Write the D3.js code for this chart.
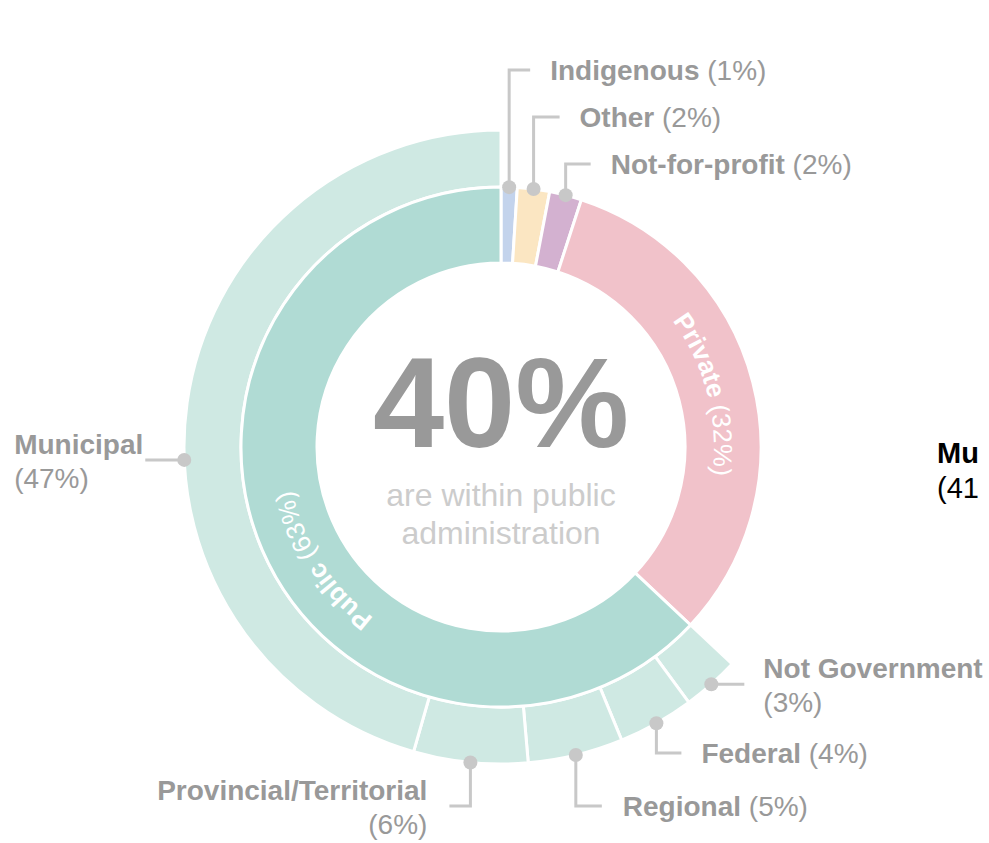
<!DOCTYPE html>
<html>
<head>
<meta charset="utf-8">
<script src="https://cdn.jsdelivr.net/npm/d3@7"></script>
<style>
  body { margin: 0; background: #fff; }
  svg { display: block; font-family: "Liberation Sans", Arial, sans-serif; }
</style>
</head>
<body>
<div id="chart"></div>
<script>
var width = 989;
var height = 843;

// inner ring: sector shares, clockwise from 12 o'clock
var sectors = ["Indigenous", "Other", "Not-for-profit", "Private", "Public"];
var sectorShares = [1, 2, 2, 32, 63];
var sectorColors = ["#c3d3ec", "#fbe6c2", "#d3b1d0", "#f1c2ca", "#b0dbd4"];

// outer ring: level of government, only under Public
var levels = ["Not Government", "Federal", "Regional", "Provincial/Territorial", "Municipal"];
var levelShares = [3, 4, 5, 6, 47];
var levelColor = "#cfe9e3";

var headline = "40%";
var subtitle = ["are within public", "administration"];
var sideLabel = ["Mu", "(41"];

var cx = 501, cy = 447;
var rIn = 184, rMid = 260, rOut = 317;
var grey = "#999999", lineGrey = "#c8c8c8";

var svg = d3.select("#chart").append("svg")
    .attr("width", width)
    .attr("height", height);

var g = svg.append("g").attr("transform", "translate(" + cx + "," + cy + ")");

var innerPie = d3.pie().sort(null).value(d => d)(sectorShares);
innerPie.forEach((d, i) => { d.name = sectors[i]; d.color = sectorColors[i]; });

var publicArc = innerPie[sectors.indexOf("Public")];
var outerPie = d3.pie().sort(null).value(d => d)
    .startAngle(publicArc.startAngle)
    .endAngle(publicArc.endAngle)(levelShares);
outerPie.forEach((d, i) => { d.name = levels[i]; });

var innerArc = d3.arc().innerRadius(rIn).outerRadius(rMid);
var outerArc = d3.arc().innerRadius(rMid).outerRadius(rOut);

g.selectAll(".outer")
    .data(outerPie)
    .enter().append("path")
    .attr("class", "outer")
    .attr("d", outerArc)
    .attr("fill", levelColor)
    .attr("stroke", "#fff")
    .attr("stroke-width", 3);

g.selectAll(".inner")
    .data(innerPie)
    .enter().append("path")
    .attr("class", "inner")
    .attr("d", innerArc)
    .attr("fill", d => d.color)
    .attr("stroke", "#fff")
    .attr("stroke-width", 3);

function pt(a, r) { return [r * Math.sin(a), -r * Math.cos(a)]; }

// curved labels inside the big sectors
var arcLabels = [
    {name: "Private", offset: "50%"},
    {name: "Public", offset: "46%"}
];
arcLabels.forEach(function(l, i) {
    var d = innerPie[sectors.indexOf(l.name)];
    var r = 213;
    var p0 = pt(d.startAngle, r), p1 = pt(d.endAngle - 0.0001, r);
    var large = (d.endAngle - d.startAngle) > Math.PI ? 1 : 0;
    g.append("path")
        .attr("id", "lp" + i)
        .attr("d", "M" + p0 + "A" + r + "," + r + " 0 " + large + " 1 " + p1)
        .attr("fill", "none");
    var tp = g.append("text")
        .attr("fill", "#fff")
        .style("font-size", "26px")
        .append("textPath")
        .attr("href", "#lp" + i)
        .attr("startOffset", l.offset)
        .attr("text-anchor", "middle");
    tp.append("tspan").style("font-weight", "bold").text(l.name);
    tp.append("tspan").text(" (" + d.value + "%)");
});

// callouts: elbowY = level of the horizontal leg, dx = horizontal leg
var callouts = [
    {name: "Indigenous", ring: "inner", elbowY: 70, dx: 21, gap: 20},
    {name: "Other", ring: "inner", elbowY: 117, dx: 26, gap: 20},
    {name: "Not-for-profit", ring: "inner", elbowY: 164, dx: 25, gap: 20},
    {name: "Not Government", ring: "outer", elbowY: null, dx: 33, gap: 19, twoLine: true},
    {name: "Federal", ring: "outer", elbowY: 753, dx: 25, gap: 20},
    {name: "Regional", ring: "outer", elbowY: 806, dx: 26, gap: 21},
    {name: "Provincial/Territorial", ring: "outer", elbowY: 806, dx: -21, gap: 22, twoLine: true},
    {name: "Municipal", ring: "outer", elbowY: null, dx: -39, gap: 2, twoLine: true, at: 0.437, blockLeft: true}
];

var ann = svg.append("g");
callouts.forEach(function(c) {
    var list = c.ring === "inner" ? innerPie : outerPie;
    var d = list.find(e => e.name === c.name);
    var r = c.ring === "inner" ? rMid : rOut;
    var a = d.startAngle + (d.endAngle - d.startAngle) * (c.at || 0.5);
    var p = pt(a, r);
    var x0 = cx + p[0], y0 = cy + p[1];
    var ey = c.elbowY == null ? y0 : c.elbowY;
    var ex = x0 + c.dx;

    ann.append("polyline")
        .attr("points", [[x0, y0], [x0, ey], [ex, ey]].join(" "))
        .attr("fill", "none")
        .attr("stroke", lineGrey)
        .attr("stroke-width", 3);
    ann.append("circle")
        .attr("cx", x0).attr("cy", y0).attr("r", 7)
        .attr("fill", lineGrey);

    var right = c.dx > 0;
    var tx = right ? ex + c.gap : ex - c.gap;
    var anchor = right ? "start" : "end";
    var pct = "(" + d.value + "%)";

    if (!c.twoLine) {
        var t = ann.append("text")
            .attr("x", tx).attr("y", ey + 10)
            .attr("text-anchor", anchor)
            .attr("fill", grey)
            .style("font-size", "28px");
        t.append("tspan").style("font-weight", "bold").text(c.name);
        t.append("tspan").text(" " + pct);
    } else {
        var t1 = ann.append("text")
            .attr("x", tx).attr("y", ey - 6)
            .attr("text-anchor", anchor)
            .attr("fill", grey)
            .style("font-size", "28px")
            .style("font-weight", "bold")
            .text(c.name);
        var t2 = ann.append("text")
            .attr("y", ey + 28)
            .attr("fill", grey)
            .style("font-size", "28px")
            .text(pct);
        if (c.blockLeft) {
            var w = t1.node().getComputedTextLength();
            t2.attr("x", tx - w).attr("text-anchor", "start");
        } else {
            t2.attr("x", tx).attr("text-anchor", anchor);
        }
    }
});

// centre text
svg.append("text")
    .attr("x", cx).attr("y", cy)
    .attr("text-anchor", "middle")
    .attr("fill", grey)
    .style("font-size", "128px")
    .style("font-weight", "bold")
    .text(headline);

svg.selectAll(".sub")
    .data(subtitle)
    .enter().append("text")
    .attr("class", "sub")
    .attr("x", cx)
    .attr("y", (d, i) => 506 + i * 38)
    .attr("text-anchor", "middle")
    .attr("fill", "#cccccc")
    .style("font-size", "32px")
    .text(d => d);

// partial label of a neighbouring chart at the right edge
svg.append("text")
    .attr("x", 937).attr("y", 463)
    .style("font-size", "29px").style("font-weight", "bold")
    .attr("fill", "#000")
    .text(sideLabel[0]);
svg.append("text")
    .attr("x", 937).attr("y", 498)
    .style("font-size", "29px")
    .attr("fill", "#000")
    .text(sideLabel[1]);
</script>
</body>
</html>
